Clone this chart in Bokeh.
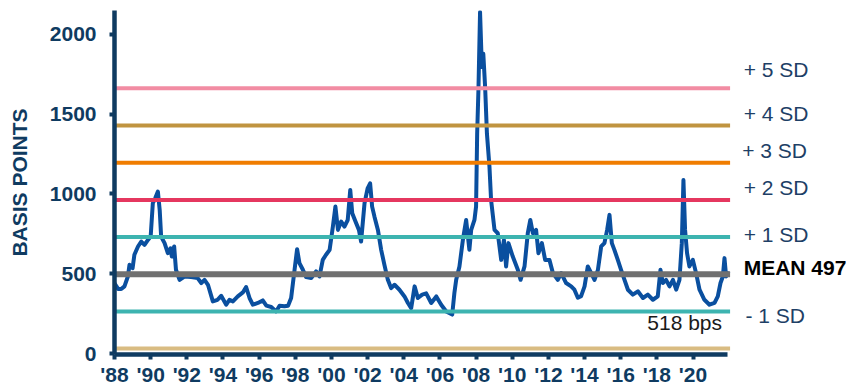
from bokeh.plotting import figure
from bokeh.models import FixedTicker, Label, Range1d, ColumnDataSource
from bokeh.embed import file_html
from bokeh.resources import INLINE

# ---- data ----
years = [1988.0, 1988.2, 1988.37, 1988.55, 1988.74, 1988.83, 1989.0, 1989.1, 1989.3, 1989.48,
         1989.66, 1989.85, 1990.0, 1990.12, 1990.25, 1990.4, 1990.5, 1990.58, 1990.77, 1990.95,
         1991.1, 1991.17, 1991.3, 1991.4, 1991.6, 1991.87, 1992.24, 1992.6, 1992.8, 1992.98,
         1993.17, 1993.44, 1993.7, 1993.9, 1994.18, 1994.36, 1994.55, 1994.82, 1995.1, 1995.28,
         1995.47, 1995.65, 1995.93, 1996.2, 1996.4, 1996.67, 1996.94, 1997.13, 1997.4, 1997.6,
         1997.77, 1997.96, 1998.1, 1998.23, 1998.42, 1998.6, 1998.88, 1999.15, 1999.34, 1999.52,
         1999.7, 1999.9, 2000.08, 2000.22, 2000.36, 2000.54, 2000.72, 2000.9, 2001.04, 2001.15,
         2001.33, 2001.52, 2001.64, 2001.83, 2002.0, 2002.14, 2002.25, 2002.38, 2002.57, 2002.75,
         2002.93, 2003.12, 2003.3, 2003.49, 2003.76, 2004.04, 2004.23, 2004.41, 2004.6, 2004.78,
         2005.02, 2005.24, 2005.52, 2005.8, 2006.07, 2006.35, 2006.68, 2006.8, 2006.9, 2007.08,
         2007.27, 2007.45, 2007.63, 2007.73, 2007.91, 2008.0, 2008.06, 2008.13, 2008.22, 2008.32,
         2008.4, 2008.5, 2008.6, 2008.74, 2008.83, 2009.02, 2009.2, 2009.39, 2009.54, 2009.66,
         2009.79, 2010.03, 2010.31, 2010.46, 2010.68, 2010.86, 2011.0, 2011.14, 2011.32, 2011.45,
         2011.64, 2011.82, 2012.06, 2012.25, 2012.52, 2012.71, 2012.98, 2013.26, 2013.44, 2013.63,
         2013.81, 2014.0, 2014.18, 2014.37, 2014.55, 2014.74, 2014.92, 2015.1, 2015.25, 2015.38,
         2015.51, 2015.65, 2015.84, 2016.02, 2016.21, 2016.4, 2016.67, 2016.95, 2017.23, 2017.5,
         2017.78, 2018.05, 2018.2, 2018.33, 2018.51, 2018.7, 2018.89, 2019.07, 2019.25, 2019.38,
         2019.47, 2019.56, 2019.67, 2019.8, 2019.99, 2020.17, 2020.36, 2020.63, 2020.91, 2021.19,
         2021.37, 2021.52, 2021.65, 2021.74, 2021.83, 2021.96]
spread = [440, 405, 404, 421, 483, 556, 535, 619, 671, 702,
          681, 712, 733, 942, 973, 1015, 900, 733, 692, 629,
          660, 608, 671, 525, 462, 483, 479, 473, 442, 462,
          431, 327, 337, 362, 306, 337, 327, 358, 383, 417,
          348, 306, 317, 333, 300, 292, 264, 300, 296, 300,
          348, 525, 654, 567, 525, 479, 473, 515, 483, 587,
          619, 650, 796, 921, 775, 827, 796, 837, 1025, 879,
          827, 775, 702, 942, 1035, 1067, 921, 858, 775, 650,
          556, 462, 410, 431, 400, 358, 317, 285, 421, 348,
          369, 377, 317, 358, 306, 264, 244, 379, 462, 546,
          712, 837, 650, 775, 837, 921, 1379, 1650, 2140, 1796,
          1879, 1671, 1379, 1171, 962, 775, 754, 587, 712, 546,
          692, 608, 525, 462, 546, 754, 837, 754, 775, 629,
          692, 587, 587, 504, 462, 504, 442, 421, 400, 350,
          360, 421, 546, 504, 462, 525, 671, 692, 775, 869,
          692, 650, 587, 525, 462, 400, 369, 390, 348, 369,
          337, 358, 525, 442, 462, 421, 462, 400, 462, 692,
          1087, 775, 629, 546, 587, 504, 400, 337, 306, 317,
          358, 442, 483, 598, 483, 515]

MEAN = 497
SD = 233
CURRENT_BPS = 518
X_START, X_END = 1988, 2022.05
sd_steps = [-2, -1, 0, 1, 2, 3, 4, 5]
sd_colors = ["#D9BC82", "#3DB4B0", "#707070", "#3DB4B0", "#E5375F", "#F07D00", "#C09440", "#F28CA3"]
sd_widths = [4, 4, 6, 4, 4, 4, 4, 4]

label_steps = [5, 4, 3, 2, 1, 0, -1]
label_texts = ["+ 5 SD", "+ 4 SD", "+ 3 SD", "+ 2 SD", "+ 1 SD", "MEAN 497", "- 1 SD"]
label_yoff = [19, 12, 12, 12, 3, 7, -4]
label_xpos = [2022.8, 2022.8, 2022.72, 2022.8, 2022.8, 2022.8, 2022.9]

tick_years = list(range(1988, 2021, 2))
tick_labels = ["'88", "'90", "'92", "'94", "'96", "'98", "'00", "'02", "'04", "'06",
               "'08", "'10", "'12", "'14", "'16", "'18", "'20"]
y_ticks = [0, 500, 1000, 1500, 2000]

NAVY = "#0F3B61"
FONT = "Liberation Sans"

p = figure(width=848, height=388, output_backend="svg", toolbar_location=None,
           x_range=Range1d(1988, 2028.6), y_range=Range1d(-6, 2150),
           min_border_left=114, min_border_right=0, min_border_top=10, min_border_bottom=33)
p.outline_line_color = None
p.grid.grid_line_color = None
p.background_fill_color = "white"

p.line(years, spread, line_color="#0A4F9F", line_width=4, line_join="round")

levels = [MEAN + s * SD for s in sd_steps]
sd_src = ColumnDataSource(dict(x0=[X_START] * len(levels), x1=[X_END] * len(levels),
                               y=levels, color=sd_colors, w=sd_widths))
p.segment(x0="x0", x1="x1", y0="y", y1="y", line_color="color", line_width="w",
          line_cap="butt", source=sd_src)

for s, t, yo, xp in zip(label_steps, label_texts, label_yoff, label_xpos):
    bold = (s == 0)
    p.add_layout(Label(x=xp, y=MEAN + s * SD, y_offset=yo, text=t,
                       text_font=FONT, text_font_size="21px",
                       text_font_style="bold" if bold else "normal",
                       text_color="#000000" if bold else "#1E3F66",
                       text_baseline="middle", text_align="left"))

p.add_layout(Label(x=2017.47, y=MEAN - SD, y_offset=-11, text=f"{CURRENT_BPS} bps",
                   text_font=FONT, text_font_size="21px", text_color="#1A1A1A",
                   text_baseline="middle", text_align="left"))

# axes
for ax in (p.xaxis[0], p.yaxis[0]):
    ax.axis_line_color = NAVY
    ax.axis_line_width = 4.5
    ax.major_tick_line_color = NAVY
    ax.major_tick_line_width = 4
    ax.major_tick_in = 0
    ax.major_tick_out = 5
    ax.minor_tick_line_color = None
    ax.major_label_text_font = FONT
    ax.major_label_text_font_style = "bold"
    ax.major_label_text_font_size = "21px"
    ax.major_label_text_color = NAVY

p.xaxis.bounds = (1988, 2021.9)
p.xaxis.ticker = FixedTicker(ticks=tick_years)
p.xaxis.major_label_overrides = {y: l for y, l in zip(tick_years, tick_labels)}
p.xaxis.major_label_standoff = 3
p.yaxis.ticker = FixedTicker(ticks=y_ticks)
p.yaxis.major_label_standoff = 13
p.yaxis.axis_label = "BASIS POINTS"
p.yaxis.axis_label_text_font = FONT
p.yaxis.axis_label_text_font_style = "bold"
p.yaxis.axis_label_text_font_size = "21px"
p.yaxis.axis_label_text_color = NAVY
p.yaxis.axis_label_standoff = 16

open("out.html", "w").write(file_html(p, INLINE))
